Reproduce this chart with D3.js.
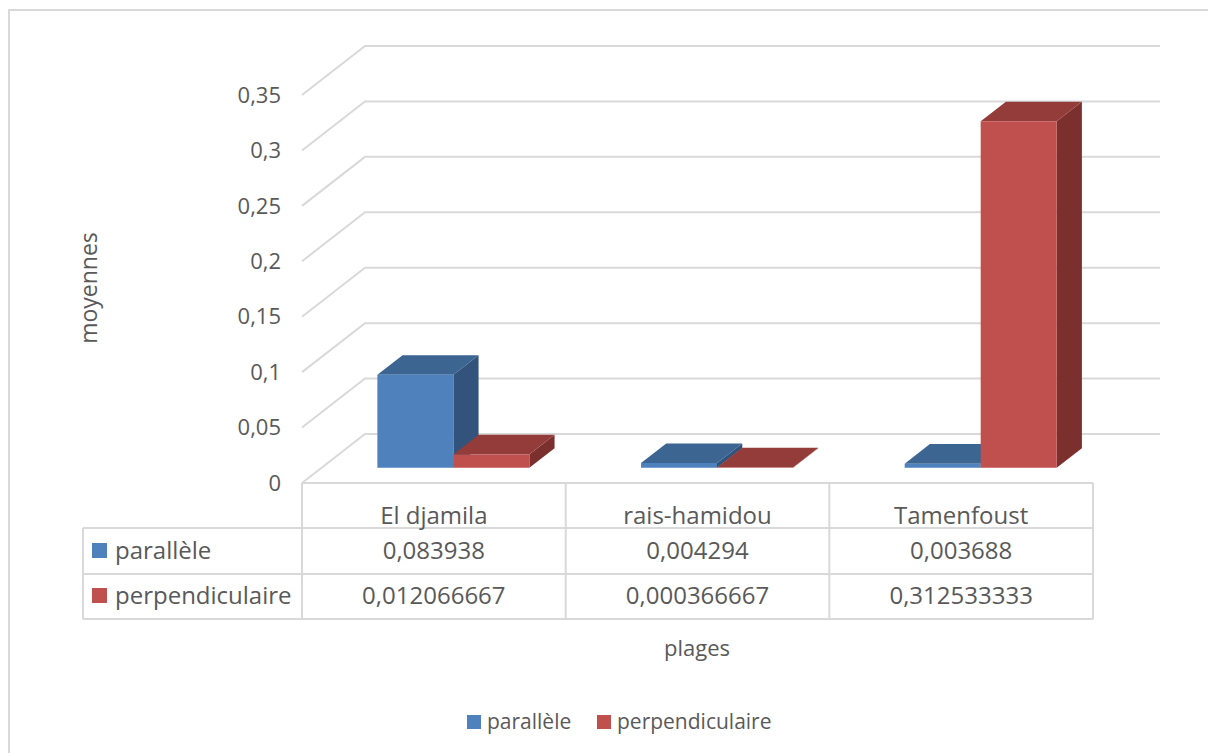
<!DOCTYPE html>
<html>
<head>
<meta charset="utf-8">
<script src="https://cdn.jsdelivr.net/npm/d3@7"></script>
<style>
  body { margin: 0; background: #fff; }
  svg text { font-family: "Open Sans", sans-serif; fill: #595959; }
</style>
</head>
<body>
<svg id="chart" width="1208" height="753"></svg>
<script>
// data
var categories = ['El djamila', 'rais-hamidou', 'Tamenfoust'];
var seriesNames = ['parallèle', 'perpendiculaire'];
var parallele = [0.083938, 0.004294, 0.003688];
var perpendiculaire = [0.012066667, 0.000366667, 0.312533333];
var tableLabels = [
  ['0,083938', '0,004294', '0,003688'],
  ['0,012066667', '0,000366667', '0,312533333']
];
var yTicks = [0, 0.05, 0.1, 0.15, 0.2, 0.25, 0.3, 0.35];

var faceCol = ['#4F81BD', '#C0504D'];
var topCol = ['#3C6591', '#943C3A'];
var sideCol = ['#31537C', '#7B302E'];

var svg = d3.select('#chart');

// outer frame
svg.append('rect').attr('x', 9).attr('y', 10).attr('width', 1210).attr('height', 760)
  .attr('fill', 'none').attr('stroke', '#d9d9d9').attr('stroke-width', 2);

var left = 302, right = 1093, base = 483;
var DX = 63, DY = 49; // depth offset
var x = d3.scaleBand().domain(categories).range([left, right]);
var y = d3.scaleLinear().domain([0, 0.35]).range([base, 95]);
var fmt = function(v){ return String(v).replace('.', ','); };

// walls: left diagonals + back gridlines
var grid = svg.append('g').attr('stroke', '#d9d9d9').attr('stroke-width', 2).attr('fill', 'none');
yTicks.forEach(function(t){
  grid.append('path').attr('d', d3.line()([
    [left, y(t)], [left + DX, y(t) - DY], [right + 67, y(t) - DY]
  ]));
});

// y labels
svg.append('g').selectAll('text').data(yTicks).enter().append('text')
  .attr('x', 281).attr('y', function(d){ return y(d); })
  .attr('dy', '0.35em').attr('text-anchor', 'end')
  .style('font-size', '22px').text(fmt);

// bars
var z0 = 0.31, z1 = 0.71;
var bars = [];
categories.forEach(function(c, i){
  var cx = x(c) + x.bandwidth() / 2;
  var inner = d3.scaleBand().domain(seriesNames).range([cx - 76, cx + 76]);
  [parallele, perpendiculaire].forEach(function(arr, s){
    bars.push({x0: inner(seriesNames[s]), x1: inner(seriesNames[s]) + inner.bandwidth(), v: arr[i], s: s});
  });
});
var P = function(px, v, z){ return [px + z * DX, y(v) - z * DY]; };
var bg = svg.append('g');
bars.forEach(function(b){
  var g = bg.append('g');
  var ftl = P(b.x0, b.v, z0), ftr = P(b.x1, b.v, z0), fbr = P(b.x1, 0, z0), fbl = P(b.x0, 0, z0);
  var btl = P(b.x0, b.v, z1), btr = P(b.x1, b.v, z1), bbr = P(b.x1, 0, z1);
  g.append('path').attr('d', 'M' + [ftr, btr, bbr, fbr].join('L') + 'Z').attr('fill', sideCol[b.s]);
  g.append('path').attr('d', 'M' + [ftl, ftr, btr, btl].join('L') + 'Z').attr('fill', topCol[b.s]);
  g.append('path').attr('d', 'M' + [ftl, ftr, fbr, fbl].join('L') + 'Z').attr('fill', faceCol[b.s]);
});

// data table
var rowsY = [483, 528, 574, 619];
var tb = svg.append('g').attr('stroke', '#d9d9d9').attr('stroke-width', 2).attr('fill', 'none');
tb.append('line').attr('x1', left).attr('x2', right).attr('y1', rowsY[0]).attr('y2', rowsY[0]);
[1, 2, 3].forEach(function(r){
  tb.append('line').attr('x1', 83).attr('x2', right).attr('y1', rowsY[r]).attr('y2', rowsY[r]);
});
tb.append('line').attr('x1', 83).attr('x2', 83).attr('y1', rowsY[1]).attr('y2', rowsY[3]);
x.domain().concat(['end']).forEach(function(c){
  var xx = c === 'end' ? right : x(c);
  tb.append('line').attr('x1', xx).attr('x2', xx).attr('y1', rowsY[0]).attr('y2', rowsY[3]);
});

svg.append('g').selectAll('text').data(categories).enter().append('text')
  .attr('x', function(d){ return x(d) + x.bandwidth() / 2; }).attr('y', 524)
  .attr('text-anchor', 'middle').style('font-size', '24px').text(function(d){ return d; });

var rowBase = [559, 604];
tableLabels.forEach(function(row, r){
  svg.append('g').selectAll('text').data(row).enter().append('text')
    .attr('x', function(d, i){ return x(categories[i]) + x.bandwidth() / 2; })
    .attr('y', rowBase[r]).attr('text-anchor', 'middle').style('font-size', '24px')
    .text(function(d){ return d; });
  svg.append('rect').attr('x', 92).attr('y', rowBase[r] - 16).attr('width', 15).attr('height', 15).attr('fill', faceCol[r]);
  svg.append('text').attr('x', 115).attr('y', rowBase[r]).style('font-size', '24px').text(seriesNames[r]);
});

// axis titles
svg.append('text').attr('transform', 'translate(97,288) rotate(-90)')
  .attr('text-anchor', 'middle').style('font-size', '23px').text('moyennes');
svg.append('text').attr('x', 697).attr('y', 656).attr('text-anchor', 'middle')
  .style('font-size', '22px').text('plages');

// legend
var lg = svg.append('g');
var lx = [467, 597];
seriesNames.forEach(function(n, i){
  lg.append('rect').attr('x', lx[i]).attr('y', 715).attr('width', 14).attr('height', 14).attr('fill', faceCol[i]);
  lg.append('text').attr('x', lx[i] + 20).attr('y', 729).style('font-size', '21px').text(n);
});
</script>
</body>
</html>
